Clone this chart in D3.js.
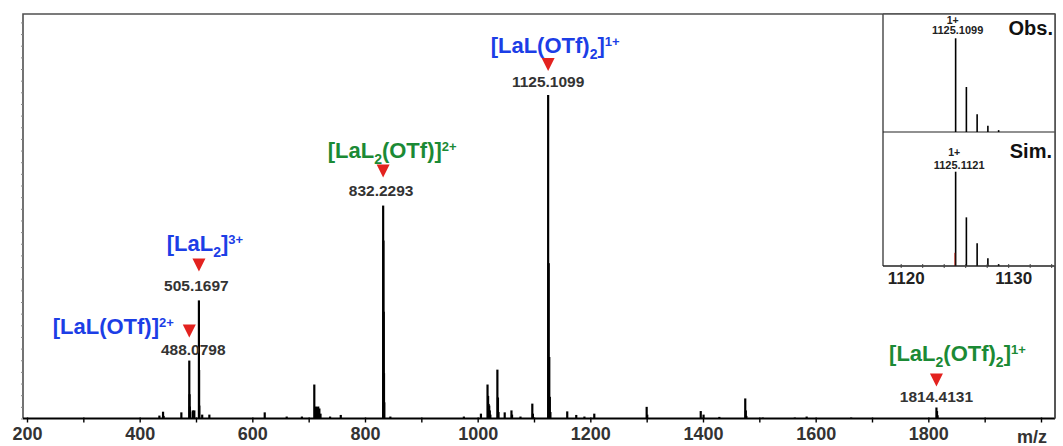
<!DOCTYPE html>
<html><head><meta charset="utf-8">
<script src="https://cdn.jsdelivr.net/npm/d3@7"></script>
<style>
html,body{margin:0;padding:0;background:#fff;}
svg{display:block;font-family:"Liberation Sans",Arial,Helvetica,sans-serif;}
</style></head><body>
<svg id="chart" width="1063" height="446"></svg>
<script>
// ---------- data ----------
// Full-range spectrum: m/z and intensity relative to the base peak (1125.11 = 100)
const spectrumMz = [435, 441.5, 442.5, 474, 488.08, 488.58, 489.08, 489.6, 494.3, 497,
  505.17, 505.50, 505.84, 511, 523.7, 622, 661, 688, 710, 713, 715, 717, 719, 721, 738, 757,
  832.23, 832.73, 833.23, 833.73, 834.23, 845, 975.5, 1005.8, 1017.5, 1018.5, 1019.5, 1020.5,
  1021.5, 1022.5, 1035, 1036, 1037, 1048, 1060, 1061, 1076, 1097, 1098,
  1125.11, 1126.11, 1127.11, 1128.11, 1129.11, 1159, 1175, 1189.5, 1207, 1300, 1301,
  1396, 1401, 1429, 1475, 1476, 1477, 1506, 1563, 1584, 1663, 1814.41, 1815.41, 1816.41];
const spectrumInt = [0.9, 2.1, 0.8, 1.9, 17.9, 7.5, 3.7, 2.0, 2.5, 2.5,
  36.5, 15, 4, 1.2, 1.2, 1.9, 0.6, 0.6, 10.5, 3.7, 3.5, 3.7, 3.1, 1.5, 0.6, 1.1,
  65.8, 55, 33, 14, 5, 0.6, 0.6, 1.5, 10.5, 7, 4.5, 4, 2.5, 1.2,
  15.1, 6.5, 2, 1.9, 2.5, 1.2, 0.6, 4.6, 1.5,
  100, 48, 19, 6.7, 2, 2.2, 1.1, 0.6, 1.5, 3.6, 1.2,
  2.3, 1.2, 0.5, 6.2, 2.5, 0.8, 0.3, 0.3, 0.6, 0.3, 3.4, 2.3, 1.0];

// Assigned ions
const ionMz = [488.0798, 505.1697, 832.2293, 1125.1099, 1814.4131];
const ionIntensity = [17.9, 36.5, 65.8, 100, 3.4];
const ionValueText = ["488.0798", "505.1697", "832.2293", "1125.1099", "1814.4131"];
const ionFormula = [
  [["[LaL(OTf)]", "n"], ["2+", "sup"]],
  [["[LaL", "n"], ["2", "sub"], ["]", "n"], ["3+", "sup"]],
  [["[LaL", "n"], ["2", "sub"], ["(OTf)]", "n"], ["2+", "sup"]],
  [["[LaL(OTf)", "n"], ["2", "sub"], ["]", "n"], ["1+", "sup"]],
  [["[LaL", "n"], ["2", "sub"], ["(OTf)", "n"], ["2", "sub"], ["]", "n"], ["1+", "sup"]]
];
const ionGroup = ["blue", "blue", "green", "blue", "green"];

// Isotope pattern of [LaL(OTf)2]1+ (observed vs simulated)
const isoMz = [1125.11, 1126.11, 1127.11, 1128.11, 1129.11];
const isoObs = [100, 48, 19, 6.7, 2];
const isoSim = [100, 51.6, 24, 8.2, 2];
const isoObsText = ["1+", "1125.1099"];
const isoSimText = ["1+", "1125.1121"];

// Axis ticks
const xTickValues = d3.range(200, 2001, 100);
const xTickLabels = ["200", "400", "600", "800", "1000", "1200", "1400", "1600", "1800"];
const insetTickValues = d3.range(1120, 1135, 2);
const insetTickLabels = ["1120", "1130"];

// ---------- layout ----------
const frame = {left: 23, top: 14, right: 1055, bottom: 418.5};
const inset = {left: 883, top: 14, right: 1055, mid: 132, bottom: 266};
const colors = {blue: "#1c3ee6", green: "#1b8a35", red: "#e3221f", text: "#333", frame: "#505050"};

const svg = d3.select("#chart");

const x = d3.scaleLinear().domain([200, 2000]).range([27, 1041]);
const y = d3.scaleLinear().domain([0, 125]).range([frame.bottom, frame.top]);

// frame (top, right, left)
svg.append("path")
  .attr("d", `M${frame.left},${frame.bottom}V${frame.top}H${frame.right}V${frame.bottom}`)
  .attr("fill", "none").attr("stroke", colors.frame).attr("stroke-width", 1.6);

// left axis: unlabeled minor ticks
const yAxis = svg.append("g").attr("transform", `translate(${frame.left},0)`)
  .call(d3.axisLeft(y).tickValues(d3.range(0, 125, 3.6)).tickSize(2).tickFormat(""));
yAxis.select(".domain").remove();
yAxis.selectAll("line").attr("stroke", "#888");

// spectrum sticks
const spectrum = spectrumMz.map((m, i) => ({mz: m, v: spectrumInt[i]}));
svg.append("g").selectAll("line").data(spectrum).join("line")
  .attr("x1", d => x(d.mz)).attr("x2", d => x(d.mz))
  .attr("y1", y(0)).attr("y2", d => y(d.v))
  .attr("stroke", "#000").attr("stroke-width", 2.2);

// bottom axis
const xAxis = svg.append("g").attr("transform", `translate(0,${frame.bottom})`)
  .call(d3.axisBottom(x).tickValues(xTickValues).tickSize(4)
    .tickFormat(d => xTickLabels.includes(String(d)) ? String(d) : ""));
xAxis.select(".domain").attr("d", `M${frame.left},0H${frame.right}`)
  .attr("stroke", "#000").attr("stroke-width", 2);
xAxis.selectAll("line").attr("stroke", "#000").attr("stroke-width", 1.4).attr("y1", -1);
xAxis.selectAll("text").attr("fill", colors.text).attr("font-size", 18)
  .attr("font-weight", "bold").attr("y", 9).attr("dy", "0.71em");
svg.append("text").attr("x", 1047).attr("y", 443).attr("text-anchor", "end")
  .attr("font-size", 18).attr("font-weight", "bold").attr("fill", colors.text).text("m/z");

// ---------- annotations ----------
// per-ion placement: formula centre offset (fx), formula baseline above peak top (fy),
// triangle bottom above peak top (ty), value baseline above peak top (vy), value offset (vx)
const annotLayout = [
  {fx: -76, fy: 27, ty: 23, vy: 5.7, vx: 4},
  {fx: 6, fy: 49, ty: 29, vy: 9.7, vx: -2.5},
  {fx: 9, fy: 48, ty: 28, vy: 10, vx: -2},
  {fx: 7, fy: 42, ty: 24, vy: 8.3, vx: 0},
  {fx: 21, fy: 46, ty: 21, vy: 5, vx: 0}
];

function formulaText(g, parts, color) {
  const t = g.append("text").attr("text-anchor", "middle").attr("fill", color)
    .attr("font-size", 22).attr("font-weight", "bold");
  let shift = 0;
  parts.forEach(([s, kind]) => {
    const ts = t.append("tspan").text(s);
    let target = 0;
    if (kind === "sub") { target = 6; ts.attr("font-size", 14); }
    else if (kind === "sup") { target = -7; ts.attr("font-size", 13); }
    ts.attr("dy", target - shift);
    shift = target;
  });
  return t;
}

ionMz.forEach((m, i) => {
  const L = annotLayout[i];
  const px = x(m), top = y(ionIntensity[i]);
  const g = svg.append("g");
  formulaText(g, ionFormula[i], colors[ionGroup[i]])
    .attr("x", px + L.fx).attr("y", top - L.fy);
  const tb = top - L.ty;
  g.append("path")
    .attr("d", `M${px - 6.5},${tb - 13}L${px + 6.5},${tb - 13}L${px},${tb}Z`)
    .attr("fill", colors.red);
  g.append("text").attr("x", px + L.vx).attr("y", top - L.vy)
    .attr("text-anchor", "middle").attr("font-size", 15.5).attr("font-weight", "bold")
    .attr("fill", colors.text).text(ionValueText[i]);
});

// ---------- inset: isotope pattern ----------
const xi = d3.scaleLinear().domain([1120, 1130]).range([900.7, 1008.2]);
const yObs = d3.scaleLinear().domain([0, 100]).range([inset.mid, 38.3]);
const ySim = d3.scaleLinear().domain([0, 100]).range([inset.bottom, 171.7]);

const ig = svg.append("g");
ig.append("rect").attr("x", inset.left).attr("y", inset.top)
  .attr("width", inset.right - inset.left).attr("height", inset.bottom - inset.top)
  .attr("fill", "#fff");
ig.append("line").attr("x1", inset.left).attr("x2", inset.left)
  .attr("y1", inset.top).attr("y2", inset.bottom).attr("stroke", "#444").attr("stroke-width", 1.4);
ig.append("line").attr("x1", inset.left).attr("x2", inset.right)
  .attr("y1", inset.mid).attr("y2", inset.mid).attr("stroke", "#222").attr("stroke-width", 1.2);
ig.append("line").attr("x1", inset.left).attr("x2", inset.right)
  .attr("y1", inset.top).attr("y2", inset.top).attr("stroke", colors.frame).attr("stroke-width", 1.6);

const isoData = isoMz.map((m, i) => ({mz: m, o: isoObs[i], s: isoSim[i]}));
ig.append("g").selectAll("line").data(isoData).join("line")
  .attr("x1", d => xi(d.mz)).attr("x2", d => xi(d.mz))
  .attr("y1", yObs(0)).attr("y2", d => yObs(d.o))
  .attr("stroke", "#000").attr("stroke-width", 1.6);
ig.append("g").selectAll("line").data(isoData).join("line")
  .attr("x1", d => xi(d.mz)).attr("x2", d => xi(d.mz))
  .attr("y1", ySim(0)).attr("y2", d => ySim(d.s))
  .attr("stroke", "#000").attr("stroke-width", 1.6);
// simulated profile trace showing at the foot of the monoisotopic line
ig.append("line").attr("x1", xi(isoMz[0]) - 0.9).attr("x2", xi(isoMz[0]) - 0.9)
  .attr("y1", ySim(0)).attr("y2", ySim(14)).attr("stroke", "#c0392b").attr("stroke-width", 0.9);

const iAxis = ig.append("g").attr("transform", `translate(0,${inset.bottom})`)
  .call(d3.axisBottom(xi).tickValues(insetTickValues).tickSize(2)
    .tickFormat(d => insetTickLabels.includes(String(d)) ? String(d) : ""));
iAxis.select(".domain").attr("d", `M${inset.left},0H${inset.right}`)
  .attr("stroke", "#222").attr("stroke-width", 1.4);
iAxis.selectAll("line").attr("stroke", "#444").attr("y1", -2);
iAxis.selectAll("text").attr("fill", "#222").attr("font-size", 17)
  .attr("font-weight", "bold").attr("y", 6).attr("dy", "0.71em").attr("dx", 5);

function peakLabel(lines, cx, y1, y2) {
  ig.append("text").attr("x", cx - 3).attr("y", y1).attr("text-anchor", "middle")
    .attr("font-size", 10.5).attr("font-weight", "bold").attr("fill", "#222").text(lines[0]);
  ig.append("text").attr("x", cx + 2).attr("y", y2).attr("text-anchor", "middle")
    .attr("font-size", 11).attr("font-weight", "bold").attr("fill", "#222").text(lines[1]);
}
peakLabel(isoObsText, xi(isoMz[0]), 24, 34);
peakLabel(isoSimText, xi(isoMz[0]) + 1.5, 155.5, 169);

ig.append("text").attr("x", 1053).attr("y", 35).attr("text-anchor", "end")
  .attr("font-size", 20).attr("font-weight", "bold").attr("fill", "#111").text("Obs.");
ig.append("text").attr("x", 1052).attr("y", 157.5).attr("text-anchor", "end")
  .attr("font-size", 20).attr("font-weight", "bold").attr("fill", "#111").text("Sim.");

// right frame edge drawn last so it sits over the inset
svg.append("line").attr("x1", frame.right).attr("x2", frame.right)
  .attr("y1", frame.top).attr("y2", frame.bottom).attr("stroke", colors.frame).attr("stroke-width", 1.6);
</script>
</body></html>
